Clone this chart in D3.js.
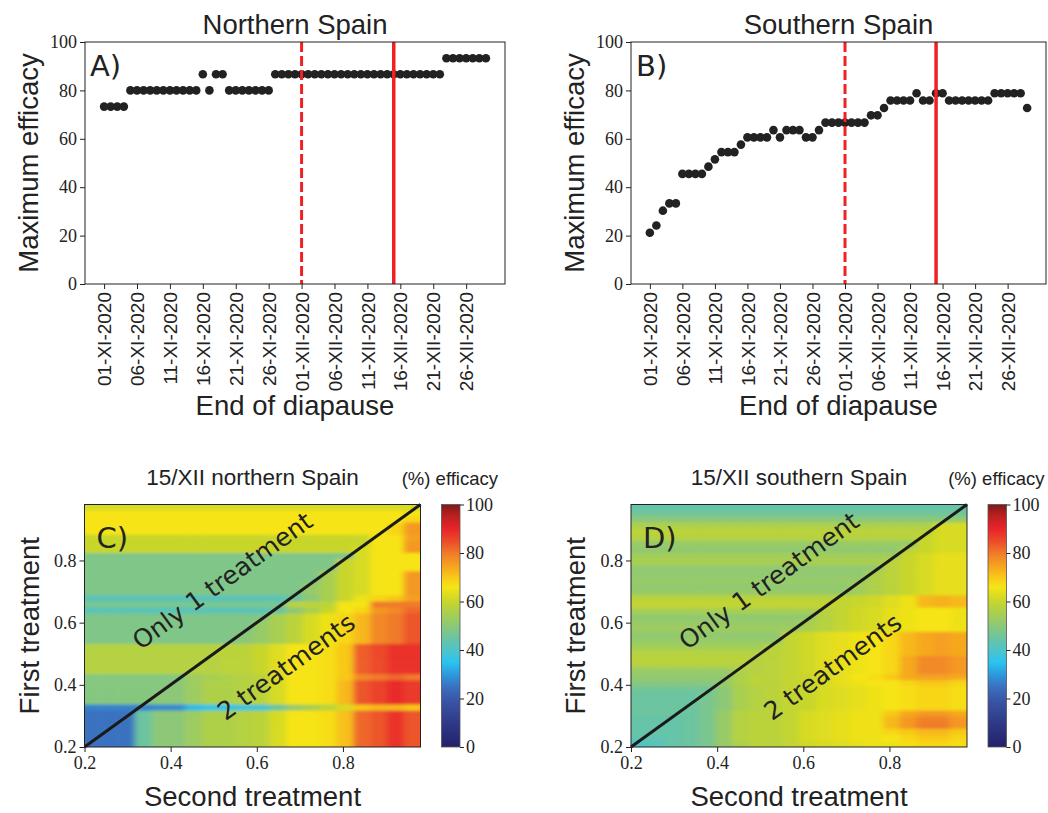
<!DOCTYPE html>
<html lang="en">
<head>
<meta charset="UTF-8">
<title>Maximum efficacy, end of diapause</title>
<script src="https://cdn.jsdelivr.net/npm/d3@7"></script>
<style>
  body { margin: 0; background: #fff; }
  svg text { fill: #222; }
  .sans { font-family: 'Liberation Sans', Arial, sans-serif; }
  .dv { font-family: 'DejaVu Sans', sans-serif; }
  .serif { font-family: 'Liberation Serif', 'Times New Roman', serif; }
</style>
</head>
<body>
<svg id="fig" width="1048" height="813"></svg>
<script>
// ---- top panels: max efficacy vs end of diapause (day index from 01-XI-2020)
const dayTicks = [0, 5, 10, 15, 20, 25, 30, 35, 40, 45, 50, 55]
const dayLabels = ['01-XI-2020', '06-XI-2020', '11-XI-2020', '16-XI-2020', '21-XI-2020', '26-XI-2020',
  '01-XII-2020', '06-XII-2020', '11-XII-2020', '16-XII-2020', '21-XII-2020', '26-XII-2020']
const effTicks = [0, 20, 40, 60, 80, 100]
const dashedDay = 30
const solidDay = 44

const effNorth = [73.3, 73.3, 73.3, 73.3,
  80, 80, 80, 80, 80, 80, 80, 80, 80, 80, 80,
  86.7, 80, 86.7, 86.7,
  80, 80, 80, 80, 80, 80, 80,
  86.7, 86.7, 86.7, 86.7, 86.7, 86.7, 86.7, 86.7, 86.7, 86.7, 86.7, 86.7, 86.7,
  86.7, 86.7, 86.7, 86.7, 86.7, 86.7, 86.7, 86.7, 86.7, 86.7, 86.7, 86.7, 86.7,
  93.3, 93.3, 93.3, 93.3, 93.3, 93.3, 93.3]

const effSouth = [21.2, 24.2, 30.3, 33.3, 33.3, 45.5, 45.5, 45.5, 45.5, 48.5,
  51.5, 54.5, 54.5, 54.5, 57.6, 60.6, 60.6, 60.6, 60.6, 63.6,
  60.6, 63.6, 63.6, 63.6, 60.6, 60.6, 63.6, 66.7, 66.7, 66.7,
  66.7, 66.7, 66.7, 66.7, 69.7, 69.7, 72.7, 75.8, 75.8, 75.8,
  75.8, 78.8, 75.8, 75.8, 78.8, 78.8, 75.8, 75.8, 75.8, 75.8,
  75.8, 75.8, 75.8, 78.8, 78.8, 78.8, 78.8, 78.8, 72.7]

// ---- bottom panels: efficacy (%) on grid of treatment times
const secondT = [0.2195, 0.2585, 0.2975, 0.3365, 0.3755, 0.4145, 0.4535, 0.4925, 0.5315, 0.5705,
  0.6095, 0.6485, 0.6875, 0.7265, 0.7655, 0.8045, 0.8435, 0.8825, 0.9215, 0.9605]
// rows from top (late first treatment) to bottom
const firstT = [0.9703, 0.9508, 0.9313, 0.9118, 0.8923, 0.8728, 0.8533, 0.8338, 0.8143, 0.7948,
  0.7753, 0.7558, 0.7363, 0.7168, 0.6973, 0.6778, 0.6583, 0.6388, 0.6193, 0.5998,
  0.5803, 0.5608, 0.5413, 0.5218, 0.5023, 0.4828, 0.4633, 0.4438, 0.4243, 0.4048,
  0.3853, 0.3658, 0.3463, 0.3268, 0.3073, 0.2878, 0.2683, 0.2488, 0.2293, 0.2098]
const treatTicks = [0.2, 0.4, 0.6, 0.8]

const heatNorth = [
  [62,62,62,62,62,62,62,62,62,62,62,62,62,62,62,62,62,62,62,62],
  [66,66,66,66,66,66,66,66,66,66,66,66,66,66,66,66,66,66,66,66],
  [66,66,66,66,66,66,66,66,66,66,66,66,66,66,66,66,66,66,66,68],
  [66,66,66,66,66,66,66,66,66,66,66,66,66,66,66,66,66,66,68,76],
  [66,66,66,66,66,66,66,66,66,66,66,66,66,66,66,66,66,66,68,76],
  [60,60,60,60,60,60,60,60,60,60,60,60,60,60,60,60,60,66,66,75],
  [60,60,60,60,60,60,60,60,60,60,60,60,60,60,60,60,60,66,66,76],
  [60,60,60,60,60,60,60,60,60,60,60,60,60,60,60,60,62,66,66,76],
  [48,48,48,48,48,48,48,48,48,48,48,48,48,48,48,48,62,66,66,66],
  [48,48,48,48,48,48,48,48,48,48,48,48,48,48,48,60,62,66,66,66],
  [48,48,48,48,48,48,48,48,48,48,48,48,48,48,48,60,62,66,66,66],
  [48,48,48,48,48,48,48,48,48,48,48,48,48,48,55,60,62,66,66,76],
  [48,48,48,48,48,48,48,48,48,48,48,48,48,48,55,60,62,66,66,76],
  [48,48,48,48,48,48,48,48,48,48,48,48,48,52,55,60,62,66,66,76],
  [48,48,48,48,48,48,48,48,48,48,48,48,48,52,55,60,62,66,66,76],
  [42,42,42,42,42,42,42,42,42,42,42,42,45,50,55,60,65,68,70,75],
  [47,47,47,47,47,47,47,47,47,47,47,47,58,58,58,66,66,80,80,80],
  [42,42,42,42,42,42,42,42,42,42,42,45,50,55,60,66,68,76,78,82],
  [48,48,48,48,48,48,48,48,48,48,48,55,58,62,65,68,72,78,80,84],
  [48,48,48,48,48,48,48,48,48,48,52,55,58,62,65,68,72,78,80,84],
  [48,48,48,48,48,48,48,48,48,48,52,55,58,62,65,68,72,78,80,84],
  [48,48,48,48,48,48,48,48,48,50,52,55,58,62,65,68,72,78,80,84],
  [48,48,48,48,48,48,48,48,48,50,52,55,58,62,65,68,72,78,80,84],
  [57,57,57,57,57,57,57,57,58,58,60,63,66,66,67,70,83,85,88,88],
  [57,57,57,57,57,57,57,57,58,58,60,63,66,66,67,70,83,85,88,88],
  [57,57,57,57,57,57,57,57,58,58,60,63,66,66,67,70,83,85,88,88],
  [57,57,57,57,57,57,57,57,58,58,60,63,66,66,67,70,83,85,88,88],
  [57,57,57,57,57,57,57,57,58,58,60,63,66,66,67,70,83,85,88,88],
  [49,49,49,49,49,49,53,55,56,57,58,62,66,66,67,70,78,80,82,80],
  [49,49,49,49,49,50,53,56,56,57,58,62,66,66,67,72,84,86,89,87],
  [49,49,49,49,49,50,53,56,56,57,58,62,66,66,67,72,84,86,89,87],
  [49,49,49,49,50,50,53,56,56,57,58,62,66,66,67,72,84,86,89,87],
  [49,49,49,49,50,50,53,56,56,57,58,62,66,66,67,72,84,86,89,87],
  [27,27,27,27,28,28,34,36,36,37,38,45,52,55,58,62,70,72,72,70],
  [25,25,25,45,50,50,53,56,56,57,58,62,66,66,67,71,82,84,88,84],
  [25,25,25,45,50,50,53,56,56,57,58,62,66,66,67,71,82,84,88,84],
  [25,25,25,45,50,50,53,56,56,57,58,62,66,66,67,71,82,84,88,84],
  [25,25,25,45,50,50,53,56,56,57,58,62,66,66,67,71,82,84,88,84],
  [25,25,25,45,50,50,53,56,56,57,58,62,66,66,67,71,82,84,88,84],
  [25,25,25,45,50,50,53,56,56,57,58,62,66,66,67,71,82,84,88,84]
]

const heatSouth = [
  [44,44,44,44,44,44,44,44,44,44,44,44,44,44,44,44,44,44,44,44],
  [46,46,46,46,46,46,46,46,46,46,46,46,46,46,46,46,46,46,46,46],
  [50,50,50,50,50,50,50,50,50,50,50,50,50,50,50,50,50,50,50,52],
  [56,56,56,56,56,56,56,56,56,56,56,56,56,56,56,56,56,56,62,62],
  [58,58,58,58,58,58,58,58,58,58,58,58,58,58,58,58,58,58,62,62],
  [57,57,57,57,57,57,57,57,57,57,57,57,57,57,57,57,57,60,62,62],
  [52,52,52,52,52,52,52,52,52,52,52,52,52,52,52,52,52,60,62,62],
  [51,51,51,51,51,51,51,51,51,51,51,51,51,51,51,51,58,60,62,62],
  [54,54,54,54,54,54,54,54,54,54,54,54,54,54,54,54,60,62,64,64],
  [55,55,55,55,55,55,55,55,55,55,55,55,55,55,55,58,60,62,64,64],
  [51,51,51,51,51,51,51,51,51,51,51,51,51,51,51,58,60,62,64,64],
  [51,51,51,51,51,51,51,51,51,51,51,51,51,51,56,58,60,62,64,64],
  [52,52,52,52,52,52,52,52,52,52,52,52,52,52,56,58,60,62,64,64],
  [51,51,51,51,51,51,51,51,51,51,51,51,51,54,56,58,60,62,64,64],
  [52,52,52,52,52,52,52,52,52,52,52,52,52,54,56,58,60,62,64,64],
  [58,58,58,58,58,58,58,58,58,58,58,58,59,60,61,63,65,72,73,72],
  [59,59,59,59,59,59,59,59,59,59,59,59,59,60,61,63,65,72,73,72],
  [55,55,55,55,55,55,55,55,55,55,55,57,59,61,62,64,65,66,66,65],
  [51,51,51,51,51,51,51,51,51,51,51,57,59,61,62,64,65,66,66,65],
  [52,52,52,52,52,52,52,52,52,52,55,57,59,61,62,64,65,66,66,65],
  [53,53,53,53,53,53,53,53,53,53,55,57,59,61,62,64,65,66,66,65],
  [51,51,51,51,51,51,51,51,51,59,61,63,64,65,66,68,72,74,75,74],
  [52,52,52,52,52,52,52,52,52,59,61,63,64,65,66,68,72,74,75,74],
  [54,54,54,54,54,54,54,54,58,59,61,63,64,65,66,68,72,74,75,74],
  [57,57,57,57,57,57,57,57,58,59,61,63,64,65,66,68,72,74,75,74],
  [58,58,58,58,58,58,58,57,58,59,61,63,64,65,66,68,74,78,78,76],
  [57,57,57,57,57,57,57,57,58,59,61,63,64,65,66,68,74,78,78,76],
  [52,52,52,52,52,52,56,57,58,59,61,63,64,65,66,68,74,78,78,76],
  [51,51,51,51,51,51,56,58,58,59,60,62,64,66,67,70,74,75,75,74],
  [49,49,49,49,49,52,56,58,58,59,60,62,64,65,66,66,68,70,70,68],
  [46,46,46,46,46,50,55,57,58,59,60,62,63,64,65,66,67,68,68,67],
  [45,45,45,45,47,50,55,57,58,59,60,62,63,64,65,66,67,68,68,67],
  [45,45,45,45,47,50,55,57,58,59,60,62,63,64,65,66,67,68,68,67],
  [45,45,45,45,47,50,55,57,58,59,60,62,63,64,65,66,67,68,68,67],
  [45,45,45,45,47,52,57,58,58,59,62,63,64,65,65,70,74,76,76,74],
  [44,44,44,45,47,52,57,58,58,59,62,63,64,65,65,72,76,79,79,76],
  [44,44,44,45,47,52,57,58,58,59,62,63,64,65,65,72,76,80,80,76],
  [44,44,44,45,47,52,57,58,58,59,62,63,64,65,65,68,70,72,72,70],
  [43,43,44,45,47,52,57,58,58,59,62,63,64,65,65,66,68,70,70,68],
  [40,42,44,45,47,52,56,58,58,59,61,62,63,64,65,65,67,68,68,67]
]

// colour map
const cmapStops = [0, 10, 20, 25, 30, 35, 40, 45, 50, 55, 60, 66, 70, 75, 80, 85, 90, 95, 100]
const cmapColors = ['#23206a', '#2f3a88', '#3a58a8', '#3a72c0', '#2c9ade', '#2cc4f0', '#4ec4c8',
  '#6cc4a0', '#8cc878', '#a8cf50', '#c8d62c', '#f6e414', '#f8c818', '#f5a020', '#f07a2a',
  '#ec4a2a', '#e8242a', '#c02020', '#7b1a1a']

const color = d3.scaleLinear().domain(cmapStops).range(cmapColors).clamp(true)

const svg = d3.select('#fig')
const defs = svg.append('defs')

function styleAxis(g, cls, size) {
  g.select('.domain').remove()
  g.selectAll('.tick line').attr('stroke', '#222')
  g.selectAll('text').attr('class', cls).style('font-size', size + 'px').attr('fill', '#222')
}

function scatterPanel(p) {
  const x = d3.scaleLinear().domain([-2.9, 60.9]).range([p.left, p.right])
  const y = d3.scaleLinear().domain([0, 100]).range([p.bottom, p.top])
  const g = svg.append('g')

  const yAxis = g.append('g').attr('transform', `translate(${p.left},0)`)
    .call(d3.axisLeft(y).tickValues(effTicks).tickSize(5).tickPadding(3))
  styleAxis(yAxis, 'serif', 18)

  const xAxis = g.append('g').attr('transform', `translate(0,${p.bottom})`)
    .call(d3.axisBottom(x).tickValues(dayTicks).tickSize(5).tickFormat((d, i) => dayLabels[i]))
  styleAxis(xAxis, 'sans', 19)
  xAxis.selectAll('text')
    .attr('transform', 'rotate(-90)')
    .attr('text-anchor', 'end')
    .attr('x', -8).attr('y', 0).attr('dy', '0.35em')

  g.append('g').selectAll('circle')
    .data(p.values)
    .join('circle')
    .attr('cx', (d, i) => x(i))
    .attr('cy', d => y(d))
    .attr('r', 4.3)
    .attr('fill', '#222')

  g.append('line')
    .attr('x1', x(dashedDay)).attr('x2', x(dashedDay))
    .attr('y1', p.top).attr('y2', p.bottom)
    .attr('stroke', '#ee2222').attr('stroke-width', 3).attr('stroke-dasharray', '10,4')
  g.append('line')
    .attr('x1', x(solidDay)).attr('x2', x(solidDay))
    .attr('y1', p.top).attr('y2', p.bottom)
    .attr('stroke', '#ee2222').attr('stroke-width', 3.5)

  g.append('rect')
    .attr('x', p.left).attr('y', p.top)
    .attr('width', p.right - p.left).attr('height', p.bottom - p.top)
    .attr('fill', 'none').attr('stroke', '#222')

  const cx = (p.left + p.right) / 2
  g.append('text').attr('class', 'sans').attr('x', cx).attr('y', 34)
    .attr('text-anchor', 'middle').style('font-size', '27.5px').text(p.title)
  g.append('text').attr('class', 'dv').attr('x', p.left + 5).attr('y', 76)
    .style('font-size', '29px').text(p.letter)
  g.append('text').attr('class', 'sans').attr('x', cx).attr('y', 415)
    .attr('text-anchor', 'middle').style('font-size', '27.5px').text('End of diapause')
  g.append('text').attr('class', 'sans')
    .attr('transform', `translate(${p.left - 47},${(p.top + p.bottom) / 2}) rotate(-90)`)
    .attr('text-anchor', 'middle').style('font-size', '27.5px').text('Maximum efficacy')
}

function heatPanel(p) {
  const x = d3.scaleLinear().domain([0.2, 0.98]).range([p.left, p.right])
  const y = d3.scaleLinear().domain([0.2, 0.98]).range([p.bottom, p.top])
  const g = svg.append('g')
  const cw = 0.039, ch = 0.0195, pad = 0.03

  defs.append('clipPath').attr('id', 'clip' + p.id)
    .append('rect').attr('x', p.left).attr('y', p.top)
    .attr('width', p.right - p.left).attr('height', p.bottom - p.top)
  defs.append('filter').attr('id', 'blur' + p.id)
    .attr('x', '-5%').attr('y', '-5%').attr('width', '110%').attr('height', '110%')
    .append('feGaussianBlur').attr('stdDeviation', '3.4 1.6')

  const cells = []
  p.matrix.forEach((row, r) => row.forEach((v, c) => cells.push({ r, c, v })))
  const last = secondT.length - 1, lastR = firstT.length - 1
  const x0 = d => secondT[d.c] - cw / 2 - (d.c === 0 ? pad : 0)
  const x1 = d => secondT[d.c] + cw / 2 + (d.c === last ? pad : 0)
  const yTop = d => firstT[d.r] + ch / 2 + (d.r === 0 ? pad : 0)
  const yBot = d => firstT[d.r] - ch / 2 - (d.r === lastR ? pad : 0)

  g.append('g').attr('clip-path', `url(#clip${p.id})`)
    .append('g').attr('filter', `url(#blur${p.id})`)
    .selectAll('rect').data(cells).join('rect')
    .attr('x', d => x(x0(d)))
    .attr('width', d => x(x1(d)) - x(x0(d)) + 0.6)
    .attr('y', d => y(yTop(d)))
    .attr('height', d => y(yBot(d)) - y(yTop(d)) + 0.6)
    .attr('fill', d => color(d.v))

  // diagonal: second treatment = first treatment
  g.append('line')
    .attr('x1', x(0.2)).attr('y1', y(0.2)).attr('x2', x(0.98)).attr('y2', y(0.98))
    .attr('stroke', '#1a1a1a').attr('stroke-width', 3)

  const ang = Math.atan2(y(0.98) - y(0.2), x(0.98) - x(0.2)) * 180 / Math.PI
  g.append('text').attr('class', 'dv')
    .attr('transform', `translate(${x(0.52)},${y(0.735)}) rotate(${ang})`)
    .attr('text-anchor', 'middle').attr('dy', '0.35em').style('font-size', '25px')
    .text('Only 1 treatment')
  g.append('text').attr('class', 'dv')
    .attr('transform', `translate(${x(0.668)},${y(0.458)}) rotate(${ang})`)
    .attr('text-anchor', 'middle').attr('dy', '0.35em').style('font-size', '25px')
    .text('2 treatments')
  g.append('text').attr('class', 'dv').attr('x', p.left + 12).attr('y', p.top + 43)
    .style('font-size', '29px').text(p.letter)

  const xAxis = g.append('g').attr('transform', `translate(0,${p.bottom})`)
    .call(d3.axisBottom(x).tickValues(treatTicks).tickSize(5).tickPadding(4).tickFormat(d3.format('.1f')))
  styleAxis(xAxis, 'serif', 18)
  const yAxis = g.append('g').attr('transform', `translate(${p.left},0)`)
    .call(d3.axisLeft(y).tickValues(treatTicks).tickSize(5).tickPadding(3).tickFormat(d3.format('.1f')))
  styleAxis(yAxis, 'serif', 18)

  g.append('rect')
    .attr('x', p.left).attr('y', p.top)
    .attr('width', p.right - p.left).attr('height', p.bottom - p.top)
    .attr('fill', 'none').attr('stroke', '#222')

  const cx = (p.left + p.right) / 2
  g.append('text').attr('class', 'sans').attr('x', cx).attr('y', 485)
    .attr('text-anchor', 'middle').style('font-size', '22.5px').text(p.title)
  g.append('text').attr('class', 'sans').attr('x', cx).attr('y', 806)
    .attr('text-anchor', 'middle').style('font-size', '27.5px').text('Second treatment')
  g.append('text').attr('class', 'sans')
    .attr('transform', `translate(${p.left - 46},${(p.top + p.bottom) / 2}) rotate(-90)`)
    .attr('text-anchor', 'middle').style('font-size', '27.5px').text('First treatment')

  // colour bar
  const cbW = 18.5
  const grad = defs.append('linearGradient').attr('id', 'grad' + p.id)
    .attr('x1', 0).attr('y1', 1).attr('x2', 0).attr('y2', 0)
  grad.selectAll('stop').data(cmapStops).join('stop')
    .attr('offset', d => d / 100).attr('stop-color', d => color(d))
  const cb = d3.scaleLinear().domain([0, 100]).range([p.bottom, p.top])
  g.append('rect').attr('x', p.cbx).attr('y', p.top)
    .attr('width', cbW).attr('height', p.bottom - p.top)
    .attr('fill', `url(#grad${p.id})`).attr('stroke', '#555').attr('stroke-width', 0.8)
  const cbAxis = g.append('g').attr('transform', `translate(${p.cbx + cbW},0)`)
    .call(d3.axisRight(cb).tickValues(effTicks).tickSize(4).tickPadding(2))
  styleAxis(cbAxis, 'serif', 18)
  g.append('text').attr('class', 'sans').attr('x', p.cbx + cbW + 38).attr('y', 485)
    .attr('text-anchor', 'end').style('font-size', '18.5px').text('(%) efficacy')
}

scatterPanel({ left: 85, right: 505, top: 42, bottom: 284, values: effNorth, title: 'Northern Spain', letter: 'A)' })
scatterPanel({ left: 631, right: 1046, top: 42, bottom: 284, values: effSouth, title: 'Southern Spain', letter: 'B)' })
heatPanel({ id: 'C', left: 84.5, right: 420.5, top: 504.5, bottom: 747, cbx: 441.5, matrix: heatNorth, title: '15/XII northern Spain', letter: 'C)' })
heatPanel({ id: 'D', left: 631, right: 967, top: 504.5, bottom: 747, cbx: 988, matrix: heatSouth, title: '15/XII southern Spain', letter: 'D)' })
</script>
</body>
</html>
